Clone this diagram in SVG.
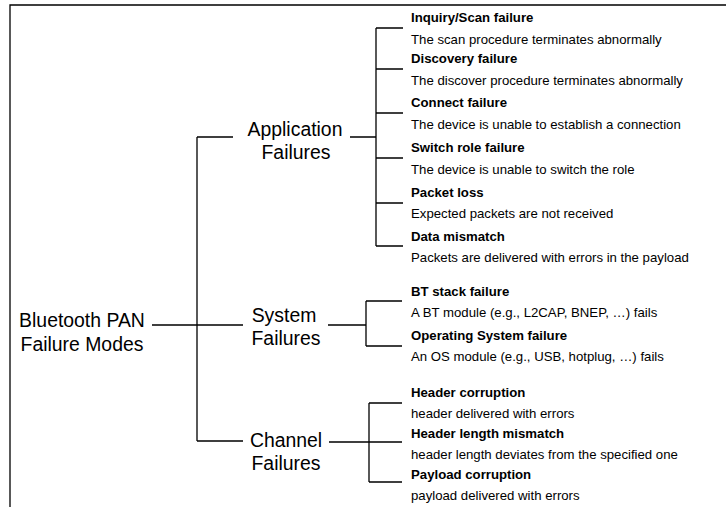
<svg xmlns="http://www.w3.org/2000/svg" width="726" height="507" viewBox="0 0 726 507">
<style>
.ln{fill:none;stroke:#000;stroke-width:1.3}
.mid{font-family:"Liberation Sans",Arial,sans-serif;font-size:19.4px;text-anchor:middle;fill:#000}
.t{font-family:"Liberation Sans",Arial,sans-serif;font-size:13.2px;font-weight:bold;fill:#000}
.d{font-family:"Liberation Sans",Arial,sans-serif;font-size:13.2px;fill:#000}
</style>
<rect width="726" height="507" fill="#fff"/>
<path class="ln" d="M10,507 V5 H726" stroke-width="1.5"/>
<g id="connectors">
<path class="ln" d="M152,325 H197 M197,137 V441 M197,137 H233 M197,325 H243 M197,441 H243"/>
<path class="ln" d="M350,137 H376 M376,28 V246 M376,28 H403 M376,69 H403 M376,113 H403 M376,158 H403 M376,203 H403 M376,246 H403"/>
<path class="ln" d="M328,325 H366 M366,301 V346 M366,301 H402 M366,346 H402"/>
<path class="ln" d="M329,442 H369 M369,403 V482 M369,403 H402 M369,442 H402 M369,482 H402"/>
</g>
<g id="root"><text class="mid" x="82" y="327">Bluetooth PAN</text><text class="mid" x="82" y="351">Failure Modes</text></g>
<g id="app"><text class="mid" x="295" y="136">Application</text><text class="mid" x="296" y="159">Failures</text></g>
<g id="sys"><text class="mid" x="284" y="322">System</text><text class="mid" x="286" y="345">Failures</text></g>
<g id="chan"><text class="mid" x="286" y="447">Channel</text><text class="mid" x="286" y="470">Failures</text></g>
<g id="l1"><text class="t" x="411" y="22">Inquiry/Scan failure</text><text class="d" x="411" y="44">The scan procedure terminates abnormally</text></g>
<g id="l2"><text class="t" x="411" y="63">Discovery failure</text><text class="d" x="411" y="85">The discover procedure terminates abnormally</text></g>
<g id="l3"><text class="t" x="411" y="107">Connect failure</text><text class="d" x="411" y="129">The device is unable to establish a connection</text></g>
<g id="l4"><text class="t" x="411" y="152">Switch role failure</text><text class="d" x="411" y="174">The device is unable to switch the role</text></g>
<g id="l5"><text class="t" x="411" y="197">Packet loss</text><text class="d" x="411" y="218">Expected packets are not received</text></g>
<g id="l6"><text class="t" x="411" y="241">Data mismatch</text><text class="d" x="411" y="262">Packets are delivered with errors in the payload</text></g>
<g id="l7"><text class="t" x="411" y="296">BT stack failure</text><text class="d" x="411" y="317">A BT module (e.g., L2CAP, BNEP, …) fails</text></g>
<g id="l8"><text class="t" x="411" y="340">Operating System failure</text><text class="d" x="411" y="361">An OS module (e.g., USB, hotplug, …) fails</text></g>
<g id="l9"><text class="t" x="411" y="397">Header corruption</text><text class="d" x="411" y="418">header delivered with errors</text></g>
<g id="l10"><text class="t" x="411" y="438">Header length mismatch</text><text class="d" x="411" y="459">header length deviates from the specified one</text></g>
<g id="l11"><text class="t" x="411" y="479">Payload corruption</text><text class="d" x="411" y="500">payload delivered with errors</text></g>
</svg>
